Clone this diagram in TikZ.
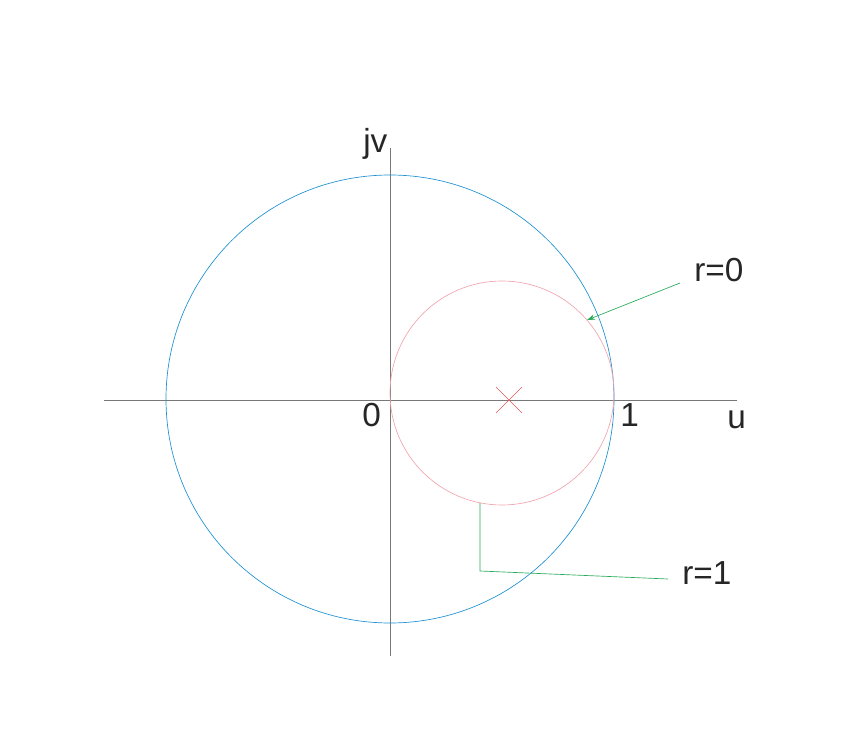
\documentclass[tikz,border=0pt]{standalone}
\usepackage{fontspec}
\setmainfont{Liberation Sans}
\usetikzlibrary{arrows.meta,calc}
\definecolor{axisgray}{RGB}{120,120,120}
\definecolor{bigblue}{RGB}{30,145,210}
\definecolor{smallpink}{RGB}{240,165,175}
\definecolor{crossred}{RGB}{225,90,90}
\definecolor{leadgreen}{RGB}{40,170,90}
\begin{document}
\begin{tikzpicture}[x=0.75pt,y=-0.75pt,
  axisline/.style={draw=axisgray,line width=0.6pt},
  lbl/.style={font=\fontsize{25}{30}\selectfont,text=black!85,inner sep=0pt,anchor=base west},
  lead/.style={draw=leadgreen,line width=0.5pt}]
\useasboundingbox (0,0) rectangle (843,755);
% axes
\coordinate (xl) at (104,400);
\coordinate (xr) at (737,400);
\coordinate (yt) at (390,148);
\coordinate (yb) at (390,656);
\draw[axisline] (xl) -- (xr);
\draw[axisline] (yt) -- (yb);
% circles
\coordinate (O) at (390,399);
\draw[bigblue,line width=0.5pt] (O) circle[radius=224];
\coordinate (C) at (502,393);
\draw[smallpink,line width=0.5pt] (C) circle[radius=112];
% cross
\coordinate (X) at (509,400);
\draw[crossred,line width=0.5pt] ($(X)+(-13,-13)$) -- ($(X)+(13,13)$);
\draw[crossred,line width=0.5pt] ($(X)+(-13,13)$) -- ($(X)+(13,-13)$);
% labels
\node[lbl] (jv) at (363,153) {jv};
\node[lbl] (zero) at (362,427) {0};
\node[lbl] (one) at (620,427) {1};
\node[lbl] (u) at (727,429) {u};
\node[lbl] (r0) at (694,282) {r=0};
\node[lbl] (r1) at (682,585) {r=1};
% leaders
\coordinate (a0) at (680,283);
\coordinate (a1) at (587,320);
\draw[lead,-{Stealth[length=6pt,width=4pt]}] (a0) -- (a1);
\coordinate (b0) at (480,503);
\coordinate (b1) at (480,571);
\coordinate (b2) at (668,579);
\draw[lead] (b0) -- (b1) -- (b2);
\end{tikzpicture}
\end{document}
